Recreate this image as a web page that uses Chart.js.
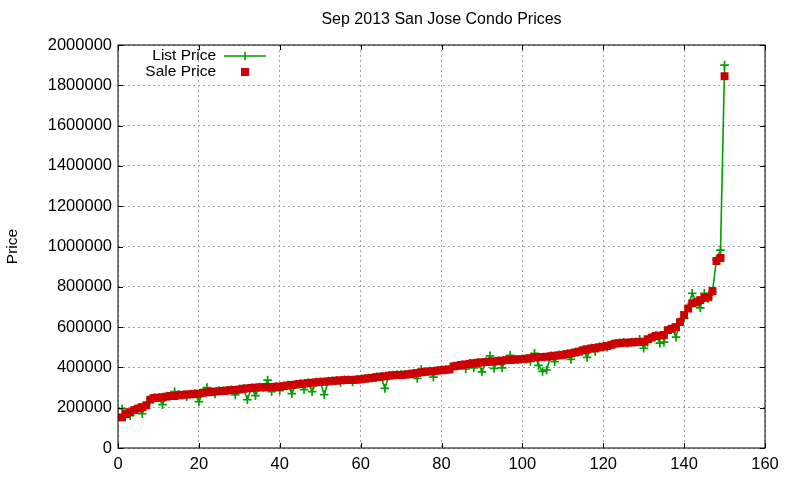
<!DOCTYPE html>
<html>
<head>
<meta charset="utf-8">
<title>Sep 2013 San Jose Condo Prices</title>
<script src="https://cdn.jsdelivr.net/npm/chart.js@4.4.1/dist/chart.umd.min.js"></script>
<style>
  html, body { margin: 0; padding: 0; background: #fff; }
  canvas { display: block; }
</style>
</head>
<body>
<canvas id="condoChart" width="800" height="480"></canvas>
<script>
// Sale prices, sorted (one per condo, index 1..150)
const salePrice = [
  152000, 168000, 178000, 188000, 196000, 203000, 212000, 240000, 248000, 250000,
  252000, 255000, 258000, 258000, 262000, 264000, 266000, 266000, 268000, 270000,
  274000, 276000, 278000, 280000, 282000, 283000, 285000, 287000, 288000, 290000,
  294000, 296000, 298000, 300000, 301000, 301000, 302000, 303000, 304000, 305000,
  307000, 310000, 313000, 315000, 318000, 320000, 322000, 324000, 326000, 328000,
  329000, 331000, 333000, 334000, 336000, 337000, 338000, 338000, 339000, 341000,
  344000, 346000, 348000, 352000, 354000, 356000, 359000, 361000, 362000, 363000,
  364000, 366000, 369000, 372000, 376000, 378000, 380000, 382000, 384000, 386000,
  388000, 390000, 405000, 408000, 412000, 415000, 418000, 421000, 423000, 425000,
  427000, 428000, 430000, 432000, 434000, 436000, 437000, 439000, 440000, 441000,
  443000, 446000, 450000, 451000, 452000, 453000, 455000, 458000, 460000, 462000,
  466000, 470000, 474000, 478000, 485000, 490000, 494000, 497000, 500000, 503000,
  506000, 512000, 518000, 520000, 522000, 523000, 524000, 525000, 526000, 528000,
  540000, 548000, 556000, 558000, 561000, 585000, 592000, 600000, 625000, 660000,
  692000, 718000, 723000, 734000, 745000, 750000, 779000, 928000, 943000, 1845000
];

// List prices for the same condos
const listPrice = [
  195000, 172000, 160000, 190000, 199000, 170000, 215000, 245000, 250000, 248000,
  215000, 258000, 260000, 280000, 265000, 262000, 255000, 268000, 270000, 230000,
  275000, 300000, 279000, 268000, 285000, 284000, 286000, 289000, 263000, 292000,
  295000, 240000, 299000, 260000, 303000, 300000, 337000, 280000, 305000, 285000,
  309000, 312000, 270000, 316000, 319000, 290000, 323000, 280000, 327000, 329000,
  265000, 332000, 334000, 336000, 325000, 338000, 339000, 328000, 340000, 342000,
  345000, 347000, 350000, 353000, 355000, 296000, 360000, 362000, 365000, 364000,
  366000, 368000, 370000, 345000, 390000, 379000, 382000, 352000, 386000, 388000,
  389000, 392000, 407000, 410000, 413000, 392000, 420000, 398000, 425000, 378000,
  429000, 457000, 395000, 433000, 398000, 438000, 460000, 440000, 438000, 443000,
  445000, 430000, 470000, 410000, 380000, 387000, 457000, 428000, 462000, 464000,
  468000, 440000, 476000, 480000, 487000, 450000, 496000, 478000, 502000, 505000,
  500000, 514000, 520000, 522000, 524000, 520000, 526000, 527000, 540000, 495000,
  525000, 550000, 558000, 520000, 525000, 587000, 595000, 550000, 628000, 645000,
  700000, 768000, 725000, 695000, 768000, 742000, 775000, 935000, 982000, 1900000
];

const xTicks = [0, 20, 40, 60, 80, 100, 120, 140, 160];
const yTicks = [0, 200000, 400000, 600000, 800000, 1000000, 1200000, 1400000, 1600000, 1800000, 2000000];

const chartTitle = 'Sep 2013 San Jose Condo Prices';
const FONT = "'Liberation Sans', Arial, sans-serif";
const GREEN = '#00a000';
const RED = '#cc0000';

// gnuplot look: title over the plot area, border box, inward ticks, key
const gnuplotFrame = {
  id: 'gnuplotFrame',
  afterDatasetsDraw(chart) {
    const {ctx, chartArea: a, scales} = chart;
    ctx.save();

    ctx.font = '16px ' + FONT;
    ctx.fillStyle = '#000';
    ctx.textAlign = 'center';
    ctx.textBaseline = 'middle';
    ctx.fillText(chartTitle, (a.left + a.right) / 2, 20);

    ctx.strokeStyle = '#000';
    ctx.lineWidth = 1;
    ctx.setLineDash([]);
    ctx.strokeRect(a.left, a.top, a.right - a.left, a.bottom - a.top);
    ctx.beginPath();
    xTicks.forEach(v => {
      const px = Math.round(scales.x.getPixelForValue(v)) + 0.5;
      ctx.moveTo(px, a.bottom); ctx.lineTo(px, a.bottom - 5);
      ctx.moveTo(px, a.top); ctx.lineTo(px, a.top + 5);
    });
    yTicks.forEach(v => {
      const py = Math.round(scales.y.getPixelForValue(v)) + 0.5;
      ctx.moveTo(a.left, py); ctx.lineTo(a.left + 5, py);
      ctx.moveTo(a.right, py); ctx.lineTo(a.right - 5, py);
    });
    ctx.stroke();

    // key
    const ds = chart.data.datasets;
    const textX = a.left + 98, sampleL = a.left + 106, sampleR = a.left + 148;
    const mid = (sampleL + sampleR) / 2;
    const rows = [a.top + 11, a.top + 27];
    ctx.font = '15.5px ' + FONT;
    ctx.textAlign = 'right';
    ctx.fillText(ds[0].label, textX, rows[0]);
    ctx.fillText(ds[1].label, textX, rows[1]);

    ctx.strokeStyle = ds[0].borderColor;
    ctx.lineWidth = ds[0].borderWidth;
    ctx.beginPath();
    ctx.moveTo(sampleL, rows[0]); ctx.lineTo(sampleR, rows[0]);
    ctx.moveTo(mid, rows[0] - 4.3); ctx.lineTo(mid, rows[0] + 4.3);
    ctx.stroke();

    ctx.fillStyle = ds[1].backgroundColor;
    ctx.fillRect(mid - 4, rows[1] - 4, 8, 8);
    ctx.restore();
  }
};

const ctx = document.getElementById('condoChart').getContext('2d');
const chart = new Chart(ctx, {
  type: 'line',
  data: {
    datasets: [
      {
        label: 'List Price',
        data: listPrice.map((v, i) => ({x: i + 1, y: v})),
        borderColor: GREEN,
        backgroundColor: GREEN,
        borderWidth: 1.6,
        pointStyle: 'cross',
        pointRadius: 4.3,
        pointBorderWidth: 1.7,
        pointBorderColor: GREEN,
        tension: 0,
        order: 2
      },
      {
        label: 'Sale Price',
        data: salePrice.map((v, i) => ({x: i + 1, y: v})),
        showLine: false,
        borderColor: RED,
        backgroundColor: RED,
        pointStyle: 'rect',
        pointRadius: 5.6,
        pointBorderWidth: 0,
        order: 1
      }
    ]
  },
  options: {
    responsive: false,
    animation: false,
    devicePixelRatio: 1,
    layout: { padding: { left: 0, right: 35, top: 45, bottom: 0 } },
    plugins: {
      legend: { display: false },
      tooltip: { enabled: false },
      title: { display: false }
    },
    scales: {
      x: {
        type: 'linear',
        min: 0,
        max: 160,
        afterBuildTicks: s => { s.ticks = xTicks.map(v => ({value: v})); },
        afterFit: s => { s.height = 32; },
        border: { display: false, dash: [2, 3] },
        grid: { color: '#a0a0a0', drawTicks: false, lineWidth: 1 },
        ticks: {
          color: '#000',
          padding: 7,
          maxRotation: 0,
          font: { family: FONT, size: 16.5 },
          callback: v => String(v)
        }
      },
      y: {
        min: 0,
        max: 2000000,
        afterBuildTicks: s => { s.ticks = yTicks.map(v => ({value: v})); },
        afterFit: s => { s.width = 118; },
        border: { display: false, dash: [2, 3] },
        grid: { color: '#a0a0a0', drawTicks: false, lineWidth: 1 },
        ticks: {
          color: '#000',
          padding: 6,
          font: { family: FONT, size: 16.5 },
          callback: v => String(v)
        },
        title: {
          display: true,
          text: 'Price',
          color: '#000',
          font: { family: FONT, size: 15.5 },
          padding: { top: 3, bottom: 0 }
        }
      }
    }
  },
  plugins: [gnuplotFrame]
});
</script>
</body>
</html>
